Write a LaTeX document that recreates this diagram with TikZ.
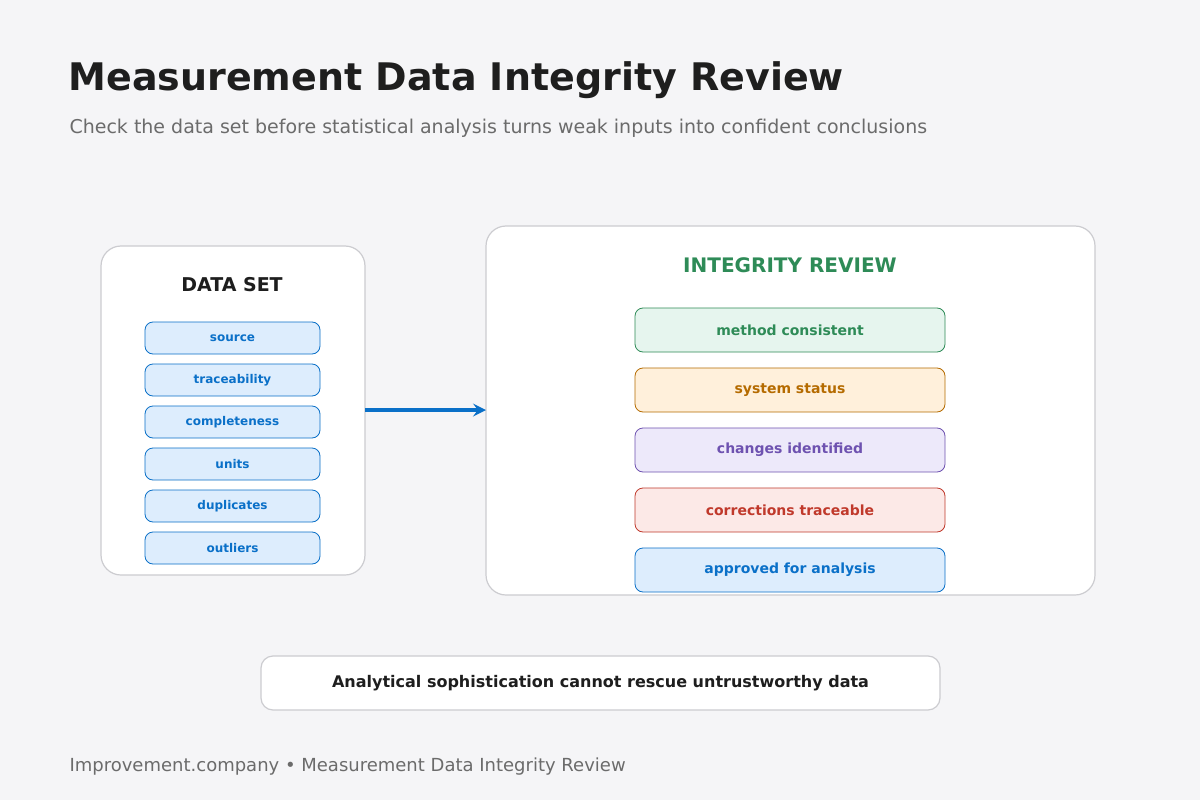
\documentclass[tikz,border=0pt]{standalone}
\usepackage{fontspec}
\setmainfont{DejaVu Sans}
\usepackage{xcolor}
\definecolor{bg}{HTML}{F5F5F7}
\definecolor{ink}{HTML}{1E1E1E}
\definecolor{grey}{HTML}{6B6B6B}
\definecolor{frame}{HTML}{CCCCD0}
\definecolor{blueT}{HTML}{0A70C8}
\definecolor{blueF}{HTML}{DDEDFD}
\definecolor{greenT}{HTML}{2E8B57}
\definecolor{greenF}{HTML}{E6F5EE}
\definecolor{orangeT}{HTML}{B56B00}
\definecolor{orangeF}{HTML}{FFF0DB}
\definecolor{purpleT}{HTML}{6E52B0}
\definecolor{purpleF}{HTML}{EDE9FA}
\definecolor{redT}{HTML}{C0392B}
\definecolor{redF}{HTML}{FCE9E7}
\tikzset{
  panel/.style={draw=frame,fill=white,line width=1.2pt,rounded corners=20pt},
  item/.style={draw=#1T,fill=#1F,text=#1T,rounded corners=8pt,line width=0.8pt,font=\bfseries\fontsize{12}{14}\selectfont},
  check/.style={item=#1,minimum width=310pt,minimum height=44pt,font=\bfseries\fontsize{14}{17}\selectfont},
  field/.style={item=blue,minimum width=175pt,minimum height=32pt}
}
\begin{document}
\begin{tikzpicture}[x=1pt,y=-1pt]
\fill[bg] (0,0) rectangle (1200,800);
\node[anchor=west,text=ink,font=\bfseries\fontsize{38}{44}\selectfont] (title) at (65,80) {Measurement Data Integrity Review};
\node[anchor=west,text=grey,font=\fontsize{19}{23}\selectfont] (subtitle) at (66,128) {Check the data set before statistical analysis turns weak inputs into confident conclusions};
% data set panel
\draw[panel] (101,246) rectangle (365,575);
\node[text=ink,font=\bfseries\fontsize{19}{23}\selectfont] (dstitle) at (232,285) {DATA SET};
\foreach \t [count=\i] in {source,traceability,completeness,units,duplicates,outliers}
  \node[field] (f\i) at (232.5,{338+42*(\i-1)}) {\t};
% review panel
\draw[panel] (486,226) rectangle (1095,595);
\node[text=greenT,font=\bfseries\fontsize{20}{24}\selectfont] (rvtitle) at (790,265) {INTEGRITY REVIEW};
\node[check=green] (c1) at (790,330) {method consistent};
\node[check=orange] (c2) at (790,390) {system status};
\node[check=purple] (c3) at (790,450) {changes identified};
\node[check=red] (c4) at (790,510) {corrections traceable};
\node[check=blue] (c5) at (790,570) {approved for analysis};
\coordinate (dsR) at (365,410);
\coordinate (rvL) at (486,410);
\draw[blueT,line width=4.5pt,-stealth] (dsR) -- (rvL);
% message
\node[panel,rounded corners=12pt,minimum width=679pt,minimum height=54pt,text=ink,font=\bfseries\fontsize{16}{19}\selectfont] (msg) at (600.5,683) {Analytical sophistication cannot rescue untrustworthy data};
\node[anchor=west,text=grey,font=\fontsize{18}{21}\selectfont] (footer) at (66,767) {Improvement.company • Measurement Data Integrity Review};
\end{tikzpicture}
\end{document}
